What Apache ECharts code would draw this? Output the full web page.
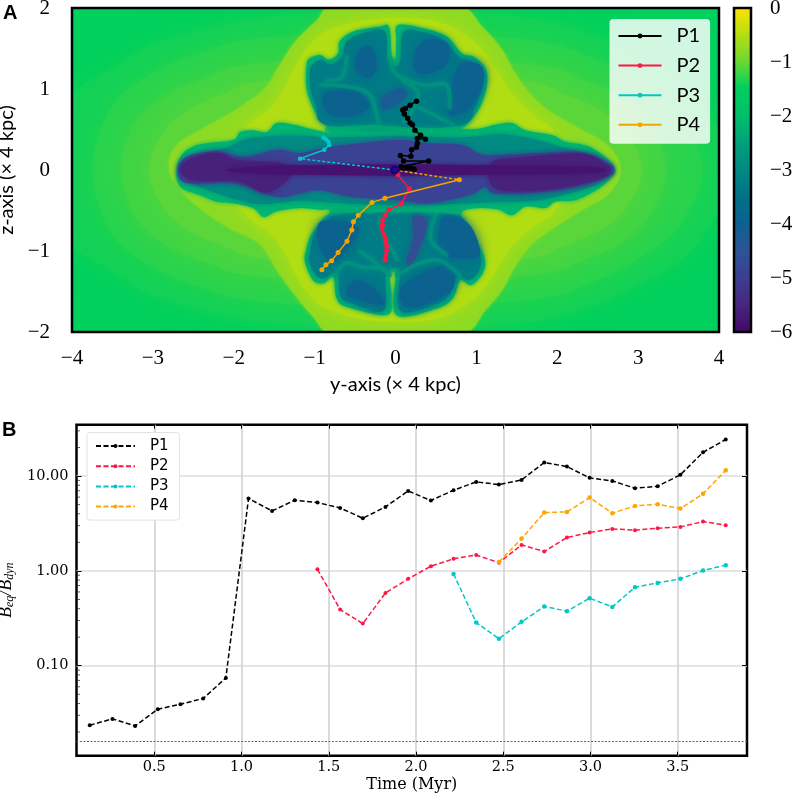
<!DOCTYPE html>
<html>
<head>
<meta charset="utf-8">
<script src="https://cdn.jsdelivr.net/npm/echarts@6/dist/echarts.min.js"></script>
<style>html,body{margin:0;background:#fff}#chart{width:796px;height:793px}</style>
</head>
<body>
<div id="chart"></div>
<script>
// panel A colour scale, one stop per 0.5 from -6 to 0
const scaleColors = ['#440a68','#48277f','#3d3f92','#2c5596','#0c6090','#007389','#008a82','#00a27a','#00c06c','#00d05e','#70d832','#b8de10','#ffe300']

// panel A field, read as outlines in (y, z)
const bgA = [[-4,-2],[4,-2],[4,2],[-4,2]]
const bgB = [[-4.2,0],[-4,.9],[-3.5,1.25],[-3,1.55],[-2.3,1.75],[-1.5,1.9],[0,2],[1.5,1.9],[2.3,1.72],[3,1.42],[3.7,.95],[4.15,0],[3.7,-.95],[3,-1.42],[2.3,-1.72],[1.5,-1.9],[0,-2],[-1.5,-1.9],[-2.3,-1.75],[-3,-1.55],[-3.5,-1.25],[-4,-.9]]
const bgC = [[-3.75,0],[-3.5,.8],[-3,1.2],[-2.4,1.45],[-1.7,1.62],[0,1.7],[1.7,1.6],[2.4,1.4],[3,1.1],[3.5,.7],[3.8,0],[3.5,-.7],[3,-1.1],[2.4,-1.4],[1.7,-1.6],[0,-1.7],[-1.7,-1.62],[-2.4,-1.45],[-3,-1.2],[-3.5,-.8]]
const bgD = [[-3.4,0],[-3.2,.6],[-2.8,.95],[-2.3,1.15],[-1.8,1.3],[0,1.4],[1.8,1.28],[2.3,1.12],[2.8,.9],[3.15,.55],[3.35,0],[3.15,-.55],[2.8,-.9],[2.3,-1.12],[1.8,-1.28],[0,-1.4],[-1.8,-1.3],[-2.3,-1.15],[-2.8,-.95],[-3.2,-.6]]
const bgE = [[-3.05,0],[-2.9,.42],[-2.6,.72],[-2.1,.95],[-1.6,1.1],[0,1.2],[1.6,1.1],[2.1,.93],[2.6,.7],[2.9,.4],[3.05,0],[2.9,-.4],[2.6,-.7],[2.1,-.93],[1.6,-1.1],[0,-1.2],[-1.6,-1.1],[-2.1,-.95],[-2.6,-.72],[-2.9,-.42]]
const cocoonOuter = [[-2.8,0],[-2.72,.29],[-2.42,.49],[-2.01,.72],[-1.63,.99],[-1.47,1.23],[-1.26,1.56],[-.97,1.85],[-.77,2.04],[0,2.1],[.78,2.04],[1.07,1.77],[1.32,1.48],[1.48,1.19],[1.69,.91],[1.94,.7],[2.31,.49],[2.64,.29],[2.78,0],[2.64,-.29],[2.31,-.49],[1.98,-.7],[1.69,-.91],[1.48,-1.19],[1.32,-1.48],[1.11,-1.73],[.82,-2.04],[0,-2.1],[-.77,-2.04],[-1.02,-1.81],[-1.26,-1.52],[-1.47,-1.23],[-1.68,-.91],[-2.01,-.74],[-2.34,-.53],[-2.62,-.29]]
const cocoonInner = [[-1.85,.52],[-1.55,.76],[-1.38,1],[-1.26,1.25],[-1.1,1.5],[-.85,1.72],[-.3,1.86],[.4,1.86],[.82,1.7],[1.08,1.48],[1.26,1.22],[1.44,.95],[1.7,.68],[1.95,.48],[1.7,.3],[-1.7,.3]]
const cocoonLower = [[-1.85,-.55],[-1.55,-.78],[-1.38,-1],[-1.26,-1.25],[-1.1,-1.5],[-.85,-1.72],[-.3,-1.86],[.4,-1.86],[.82,-1.7],[1.08,-1.48],[1.26,-1.22],[1.44,-.95],[1.7,-.7],[1.95,-.52],[1.7,-.3],[-1.7,-.3]]
const coolOutline = [[-2.71,0],[-2.64,.19],[-2.5,.29],[-2.34,.33],[-2.01,.37],[-1.92,.47],[-1.76,.49],[-1.59,.47],[-1.47,.58],[-1.26,.56],[-1.06,.51],[-.81,.47],[-.93,.62],[-1.02,.77],[-1.1,1.01],[-1.1,1.3],[-1.06,1.38],[-.93,1.42],[-.83,1.36],[-.71,1.44],[-.69,1.59],[-.52,1.71],[-.2,1.77],[-.08,1.77],[-.05,1.45],[-.03,1.38],[0,1.38],[.01,1.6],[.03,1.79],[.34,1.75],[.63,1.65],[.82,1.44],[.96,1.4],[1.11,1.26],[1.13,1.05],[1.04,.77],[.88,.56],[.78,.51],[1.03,.51],[1.24,.56],[1.44,.58],[1.61,.49],[1.94,.43],[2.1,.35],[2.39,.29],[2.64,.12],[2.72,0],[2.68,-.08],[2.51,-.23],[2.23,-.37],[1.98,-.39],[1.85,-.47],[1.61,-.45],[1.44,-.56],[1.28,-.49],[1.07,-.47],[.87,-.49],[.8,-.55],[.92,-.76],[1.09,-1.05],[1.09,-1.25],[.94,-1.42],[.8,-1.36],[.71,-1.58],[.51,-1.71],[.01,-1.79],[0,-1.3],[-.07,-1.3],[-.05,-1.58],[-.11,-1.79],[-.6,-1.69],[-.73,-1.58],[-.77,-1.32],[-.89,-1.4],[-1.02,-1.36],[-1.12,-1.13],[-1.1,-.97],[-1.04,-.8],[-.89,-.6],[-.77,-.49],[-.93,-.49],[-1.18,-.47],[-1.47,-.51],[-1.63,-.58],[-1.76,-.47],[-2.01,-.41],[-2.21,-.39],[-2.42,-.31],[-2.66,-.21]]
const lobeTop = [[-.86,.56],[-.98,.78],[-1.05,1.01],[-1.05,1.26],[-.93,1.36],[-.8,1.3],[-.66,1.4],[-.62,1.56],[-.48,1.66],[-.14,1.72],[-.1,1.36],[.05,1.3],[.1,1.7],[.34,1.7],[.6,1.6],[.78,1.4],[.94,1.34],[1.06,1.22],[1.08,1.05],[.98,.77],[.82,.56],[0,.5]]
const lobeBottom = [[-.74,-.56],[-.85,-.64],[-1,-.8],[-1.05,-.97],[-1.07,-1.13],[-.98,-1.3],[-.89,-1.34],[-.72,-1.26],[-.68,-1.56],[-.56,-1.64],[-.15,-1.74],[-.12,-1.28],[.05,-1.24],[.06,-1.74],[.48,-1.66],[.66,-1.54],[.76,-1.32],[.92,-1.36],[1.04,-1.22],[1.04,-1.05],[.88,-.76],[.76,-.56],[0,-.5]]
const discEnvelope = [[-2.65,0],[-2.55,.15],[-2.1,.27],[-1.85,.38],[-1.5,.42],[-1.1,.42],[-.8,.4],[0,.42],[.8,.4],[1.3,.44],[1.7,.38],[2.1,.27],[2.5,.17],[2.66,0],[2.5,-.17],[2.1,-.3],[1.7,-.38],[1.1,-.4],[.7,-.42],[0,-.44],[-.8,-.4],[-1.2,-.38],[-1.7,-.42],[-2.1,-.32],[-2.5,-.17]]
const disc = [[-2.69,0],[-2.58,.16],[-2.21,.23],[-1.88,.16],[-1.47,.25],[-1.18,.21],[-.77,.29],[0,.37],[.41,.33],[.82,.31],[1.07,.19],[1.44,.19],[1.85,.21],[2.31,.21],[2.64,.08],[2.7,0],[2.64,-.08],[2.31,-.19],[1.85,-.27],[1.24,-.29],[1.11,-.21],[.91,-.31],[.41,-.41],[0,-.37],[-.56,-.33],[-.93,-.25],[-1.18,-.29],[-1.47,-.33],[-2.01,-.16],[-2.58,-.16]]
const tipLeft = [[-2.66,0],[-2.55,.13],[-2.2,.21],[-1.95,.12],[-1.4,.08],[-1.3,-.08],[-1.6,-.28],[-1.95,-.14],[-2.5,-.13]]
const tipRight = [[1.2,.1],[1.5,.15],[2.3,.2],[2.62,.06],[2.66,0],[2.6,-.08],[2.3,-.17],[1.8,-.25],[1.3,-.25],[1.15,-.1]]
const midplane = [[-1.6,.05],[-1,.06],[0,.07],[1,.06],[2.3,.04],[2.6,0],[2.3,-.04],[1,-.06],[0,-.07],[-1,-.06],[-1.6,-.05],[-2.1,0]]
const streakBottom = [[.22,-.56],[.39,-.64],[.31,-.93],[.2,-1.17],[.14,-1.13],[.22,-.84]]
const streakTop = [[-.17,.89],[.06,1.01],[.14,.93],[.01,.81],[-.15,.75]]
const patches = [
  [[-.48,1.42],[-.32,1.53],[-.23,1.3],[-.32,1.14],[-.48,1.22]],
  [[-.89,.93],[-.56,1.01],[-.32,.81],[-.48,.68],[-.81,.68]],
  [[.8,1.3],[1.04,1.3],[1.09,1.1],[.92,.77],[.67,.68],[.67,.93]],
  [[.34,1.59],[.63,1.57],[.63,1.3],[.34,1.18],[.22,1.3]],
  [[-.48,-1.36],[-.23,-1.5],[-.15,-1.67],[-.6,-1.54]],
  [[-.93,-.64],[-.48,-.68],[-.52,-.88],[-.77,-1.13],[-.93,-.97]],
  [[.63,-.55],[.92,-.68],[1.04,-1.05],[.76,-1.09],[.55,-.99],[.55,-.68]],
  [[.1,-1.42],[.63,-1.17],[.71,-1.46],[.34,-1.67],[.1,-1.67]]
]
const filaments = [
  [[-.93,1.05],[-.6,1.03],[-.32,.93],[-.21,.6]],
  [[-.07,1.38],[.01,1.18],[.34,1.05],[.63,1.05],[.67,.77]],
  [[.3,.77],[.55,.64],[.71,.56]],
  [[.51,-.51],[.43,-.84],[.63,-1.05]],
  [[-.07,-1.3],[-.27,-1.13],[-.44,-1]],
  [[-.2,-.6],[-.12,-.85],[.02,-1.1]],
  [[-.6,1.4],[-.66,1.15],[-.85,1.1]],
  [[.1,.6],[.2,.72],[.28,.95],[.1,1.1]],
  [[.02,-1.3],[.3,-1.15],[.55,-1.12],[.8,-1.3]],
  [[-.75,-1.3],[-.62,-1.15],[-.4,-1.2],[-.12,-1.22]]
]
const bandLines = [
  [[-.85,.5],[-.3,.53],[.2,.5],[.8,.5]],
  [[-.8,-.5],[-.2,-.5],[.3,-.5],[.8,-.52]]
]
const fieldLayers = [
  {level:-1.5, pts:bgA, sharp:true}, {level:-1.42, pts:bgB, blur:30}, {level:-1.32, pts:bgC, blur:30}, {level:-1.22, pts:bgD, blur:30}, {level:-1.1, pts:bgE, blur:30},
  {level:-.8, pts:cocoonOuter, blur:3}, {level:-.55, pts:cocoonInner, blur:18}, {level:-.55, pts:cocoonLower, blur:18},
  {level:-2.2, pts:coolOutline, blur:4}, {level:-3.3, pts:lobeTop, blur:6}, {level:-3.3, pts:lobeBottom, blur:6},
  {level:-3, pts:discEnvelope, blur:5}, {level:-4.9, pts:disc, blur:5}, {level:-5.6, pts:tipLeft, blur:6}, {level:-5.6, pts:tipRight, blur:6},
  {level:-5.85, pts:midplane, blur:4}, {level:-4.7, pts:streakBottom, blur:6}, {level:-4.2, pts:streakTop, blur:8}
].concat(
  patches.map(p => ({level:-3.95, pts:p, blur:12})),
  filaments.map(p => ({level:-2.8, pts:p, open:true, blur:5})),
  bandLines.map(p => ({level:-2.3, pts:p, open:true, blur:5}))
)

// panel A tracks, (y, z)
const trackP1 = [[-.01,0],[.23,.01],[.2,.02],[.14,.03],[.07,.04],[.41,.11],[.1,.11],[.06,.18],[.19,.17],[.2,.25],[.26,.28],[.27,.33],[.27,.39],[.37,.38],[.31,.43],[.24,.49],[.21,.56],[.18,.58],[.15,.64],[.11,.69],[.09,.74],[.12,.76],[.18,.8],[.26,.85]]
const trackP2 = [[-.01,0],[.03,-.06],[.17,-.23],[.07,-.42],[-.08,-.49],[-.13,-.56],[-.16,-.62],[-.16,-.68],[-.17,-.72],[-.15,-.78],[-.13,-.84],[-.12,-.88],[-.11,-.93],[-.11,-.99],[-.12,-1.05],[-.13,-1.11]]
const trackP3 = [[-1.18,.14],[-.88,.25],[-.82,.31],[-.83,.35],[-.86,.38],[-.89,.4]]
const trackP4 = [[.79,-.12],[-.13,-.35],[-.29,-.4],[-.46,-.56],[-.52,-.64],[-.54,-.74],[-.6,-.88],[-.71,-1.02],[-.79,-1.12],[-.86,-1.17],[-.91,-1.23]]
const jumpP3 = [[-.01,0],[-1.18,.14]]
const jumpP4 = [[-.01,0],[.79,-.12]]
const origin = [[-.01,0]]

// panel B, one value per time step
const timeSteps = [.13,.26,.39,.52,.65,.78,.91,1.04,1.175,1.305,1.435,1.565,1.695,1.825,1.955,2.085,2.215,2.345,2.475,2.605,2.735,2.865,2.995,3.125,3.255,3.385,3.515,3.645,3.775]
const ratioP1 = [.0236,.0275,.0232,.0348,.0393,.0451,.0744,5.79,4.29,5.56,5.25,4.61,3.59,4.73,6.97,5.52,7.09,8.68,8.13,9.11,13.9,12.6,9.57,8.89,7.44,7.81,10.3,17.8,24.3]
const ratioP2 = [1.04,.391,.278,.586,.824,1.12,1.34,1.47,1.22,1.88,1.6,2.25,2.54,2.77,2.69,2.82,2.91,3.31,3.03]
const ratioP3 = [.93,.285,.193,.29,.421,.376,.515,.417,.673,.747,.824,1.01,1.15]
const ratioP4 = [1.24,2.19,4.12,4.19,5.93,4.06,4.84,5.05,4.54,6.49,11.5]
const floorRatio = .016
const timeTicks = [.5,1,1.5,2,2.5,3,3.5]
const ratioTicks = [.1,1,10]
const ratioMinor = [.02,.03,.04,.05,.06,.07,.08,.09,.2,.3,.4,.5,.6,.7,.8,.9,2,3,4,5,6,7,8,9,20,30]
const timeMin = .054, timeMax = 3.897, ratioMin = .01125, ratioMax = 34.8

const colorP = ['#000000','#ff1744','#00c8c8','#f5a300']
const colorB = ['#000000','#ff1744','#00c8c8','#ffa500']
const serifA = 'Liberation Serif', sansA = 'Lato', serifB = 'DejaVu Serif'
const minus = v => String(v).replace('-', '\u2212')

// colourbar cells
const barCells = []
for (let i = 0; i < 120; i++) barCells.push([0, -6 + i * .05, -6 + i * .05])

function tail(arr) { return arr.map((v, i) => [timeSteps[timeSteps.length - arr.length + i], v]) }

// catmull-rom through the read outline so the drawn edges stay round
function rounded(pts, closed) {
  const out = []
  const n = pts.length
  const at = i => closed ? pts[(i + n) % n] : pts[Math.max(0, Math.min(n - 1, i))]
  const last = closed ? n : n - 1
  for (let i = 0; i < last; i++) {
    const a = at(i - 1), b = at(i), c = at(i + 1), d = at(i + 2)
    for (let s = 0; s < 8; s++) {
      const t = s / 8, t2 = t * t, t3 = t2 * t
      out.push([0, 1].map(k => .5 * (2 * b[k] + (c[k] - a[k]) * t + (2 * a[k] - 5 * b[k] + 4 * c[k] - d[k]) * t2 + (3 * b[k] - a[k] - 3 * c[k] + d[k]) * t3)))
    }
  }
  if (!closed) out.push(pts[n - 1])
  return out
}

function drawLayer(params, api) {
  const layer = fieldLayers[params.dataIndex]
  const color = api.visual('color')
  if (layer.sharp) {
    return {type:'polygon', shape:{points:layer.pts.map(p => api.coord(p))}, style:{fill:color}}
  }
  if (layer.open) {
    const line = rounded(layer.pts, false).map(p => api.coord(p))
    return {type:'polyline', shape:{points:line}, style:{fill:null, stroke:color, lineWidth:4, lineCap:'round', opacity:.7, shadowBlur:layer.blur, shadowColor:color}}
  }
  const ring = rounded(layer.pts, true).map(p => api.coord(p))
  return {type:'polygon', shape:{points:ring}, style:{fill:color, shadowBlur:layer.blur, shadowColor:color}}
}

function drawCell(params, api) {
  const v = api.value(1)
  const a = api.coord([0, v + .1]), b = api.coord([1, v])
  return {type:'rect', shape:{x:a[0], y:a[1], width:b[0] - a[0], height:b[1] - a[1]}, style:{fill:api.visual('color')}}
}

function trackSeries(name, data, color, size, width) {
  return {name, type:'line', xAxisIndex:0, yAxisIndex:0, data, symbol:'circle', symbolSize:size, itemStyle:{color}, lineStyle:{color, width}, z:5}
}
function jumpSeries(name, data, color) {
  return {name, type:'line', xAxisIndex:0, yAxisIndex:0, data, symbol:'none', lineStyle:{color, width:1.5, type:[3,2]}, z:4}
}
function ratioSeries(name, arr, color, size) {
  return {name, type:'line', xAxisIndex:2, yAxisIndex:2, data:tail(arr), symbol:'circle', symbolSize:size, itemStyle:{color}, lineStyle:{color, width:1.5, type:[5,2.5]}, z:5}
}

const frame = {show:true, borderColor:'#000', borderWidth:2.5, backgroundColor:'transparent', outerBoundsMode:'none', containLabel:false}
const option = {
  animation:false,
  backgroundColor:'#fff',
  title:[
    {text:'A', left:3, top:3, padding:0, textStyle:{fontFamily:'Liberation Sans', fontWeight:'bold', fontSize:20, color:'#000'}},
    {text:'B', left:2, top:420, padding:0, textStyle:{fontFamily:'Liberation Sans', fontWeight:'bold', fontSize:20, color:'#000'}}
  ],
  grid:[
    Object.assign({left:72, top:8, width:647, height:324, z:8}, frame),
    Object.assign({left:734, top:8, width:17, height:324, z:8}, frame),
    Object.assign({left:76.5, top:424.7, width:670.5, height:331}, frame)
  ],
  visualMap:{show:false, type:'continuous', min:-6, max:0, dimension:2, seriesIndex:[0,1], inRange:{color:scaleColors}},
  legend:[
    {data:['P1','P2','P3','P4'], orient:'vertical', left:609.5, top:19, padding:[7,10,9,8], itemWidth:43, itemHeight:6, itemGap:9.6, backgroundColor:'rgba(255,255,255,.82)', borderRadius:4, textStyle:{fontFamily:sansA, fontSize:20, color:'#000', padding:[0,0,0,10]}, selectedMode:false, z:20},
    {data:['P1 B','P2 B','P3 B','P4 B'], formatter:n => n.slice(0,2), orient:'vertical', left:87, top:432.5, padding:[6,11,6,8], itemWidth:39, itemHeight:5, itemGap:5.2, backgroundColor:'#fff', borderColor:'#e3e3e3', borderWidth:1, borderRadius:3, textStyle:{fontFamily:'DejaVu Sans', fontSize:15, color:'#000', padding:[0,0,0,10]}, selectedMode:false, z:20}
  ],
  xAxis:[
    {gridIndex:0, type:'value', min:-4, max:4, interval:1, name:'y-axis (\u00d7 4 kpc)', nameLocation:'middle', nameGap:43, nameTextStyle:{fontFamily:sansA, fontSize:20, color:'#000'},
      axisLine:{show:false}, axisTick:{length:6, lineStyle:{color:'#000', width:1}}, splitLine:{show:false},
      axisLabel:{fontFamily:serifA, fontSize:21, color:'#000', margin:16, formatter:minus}},
    {gridIndex:1, type:'value', min:0, max:1, show:false},
    {gridIndex:2, type:'value', min:timeMin, max:timeMax, name:'Time (Myr)', nameLocation:'middle', nameGap:21, nameTextStyle:{fontFamily:serifB, fontSize:16, color:'#000'},
      axisLine:{show:false}, axisTick:{inside:true, length:4, customValues:timeTicks, lineStyle:{color:'#000'}}, splitLine:{show:true, lineStyle:{color:'#cfcfcf', width:1.5}},
      axisLabel:{fontFamily:serifB, fontSize:14.5, color:'#000', margin:4, customValues:timeTicks, formatter:v => v.toFixed(1)}},
    {gridIndex:2, type:'value', position:'top', min:timeMin, max:timeMax, axisLine:{show:false}, axisTick:{inside:true, length:4, customValues:timeTicks, lineStyle:{color:'#000'}}, axisLabel:{show:false}, splitLine:{show:false}}
  ],
  yAxis:[
    {gridIndex:0, type:'value', min:-2, max:2, interval:1, name:'z-axis (\u00d7 4 kpc)', nameLocation:'middle', nameGap:50, nameTextStyle:{fontFamily:sansA, fontSize:20, color:'#000'},
      axisLine:{show:false}, axisTick:{length:6, lineStyle:{color:'#000', width:1}}, splitLine:{show:false},
      axisLabel:{fontFamily:serifA, fontSize:21, color:'#000', margin:22, formatter:minus}},
    {gridIndex:1, type:'value', min:-6, max:0, interval:1, position:'right',
      axisLine:{show:false}, axisTick:{length:8, lineStyle:{color:'#555', width:1}}, splitLine:{show:false},
      axisLabel:{fontFamily:serifA, fontSize:21, color:'#000', margin:19, formatter:minus}},
    {gridIndex:2, type:'log', min:ratioMin, max:ratioMax, name:'{v|B}{s|eq}{v|/B}{s|dyn}', nameLocation:'middle', nameGap:50,
      nameTextStyle:{rich:{v:{fontFamily:serifA, fontStyle:'italic', fontSize:18, color:'#000'}, s:{fontFamily:serifA, fontStyle:'italic', fontSize:12, color:'#000', padding:[7,0,0,0]}}},
      axisLine:{show:false}, axisTick:{inside:true, length:5, customValues:ratioTicks, lineStyle:{color:'#000'}}, splitLine:{show:true, lineStyle:{color:'#dcdcdc', width:1.5}},
      axisLabel:{fontFamily:serifB, fontSize:14.5, color:'#000', margin:8, customValues:ratioTicks, formatter:v => v.toFixed(2)}},
    {gridIndex:2, type:'log', position:'right', min:ratioMin, max:ratioMax, axisLine:{show:false}, axisTick:{inside:true, length:5, customValues:ratioTicks, lineStyle:{color:'#000'}}, axisLabel:{show:false}, splitLine:{show:false}}
  ],
  series:[
    {type:'custom', xAxisIndex:0, yAxisIndex:0, clip:true, silent:true, renderItem:drawLayer, encode:{x:0, y:1}, data:fieldLayers.map(l => [0, 0, l.level]), z:1},
    {type:'custom', xAxisIndex:1, yAxisIndex:1, clip:true, silent:true, renderItem:drawCell, encode:{x:0, y:1}, data:barCells, z:1},
    jumpSeries('P3 jump', jumpP3, colorP[2]),
    jumpSeries('P4 jump', jumpP4, colorP[3]),
    trackSeries('P1', trackP1, colorP[0], 5.5, 1.5),
    trackSeries('P2', trackP2, colorP[1], 5, 1.5),
    trackSeries('P3', trackP3, colorP[2], 4.5, 1.5),
    trackSeries('P4', trackP4, colorP[3], 5, 1.5),
    {name:'origin', type:'scatter', xAxisIndex:0, yAxisIndex:0, data:origin, symbolSize:9, itemStyle:{color:'#00008b'}, z:7},
    ratioSeries('P1 B', ratioP1, colorB[0], 4),
    ratioSeries('P2 B', ratioP2, colorB[1], 4),
    ratioSeries('P3 B', ratioP3, colorB[2], 4.5),
    ratioSeries('P4 B', ratioP4, colorB[3], 4.5),
    {name:'floor', type:'line', xAxisIndex:2, yAxisIndex:2, data:[], markLine:{silent:true, symbol:'none', precision:5, label:{show:false}, lineStyle:{color:'#666', width:1, type:[2,1.5]}, data:[{yAxis:floorRatio}]}},
    {name:'minor', type:'scatter', xAxisIndex:2, yAxisIndex:2, silent:true, data:ratioMinor.map(v => [timeMin, v]), symbol:'rect', symbolSize:[3,1], symbolOffset:[2,0], itemStyle:{color:'#333'}, z:6, clip:false}
  ]
}
const chart = echarts.init(document.getElementById('chart'))
chart.setOption(option)
</script>
</body>
</html>
